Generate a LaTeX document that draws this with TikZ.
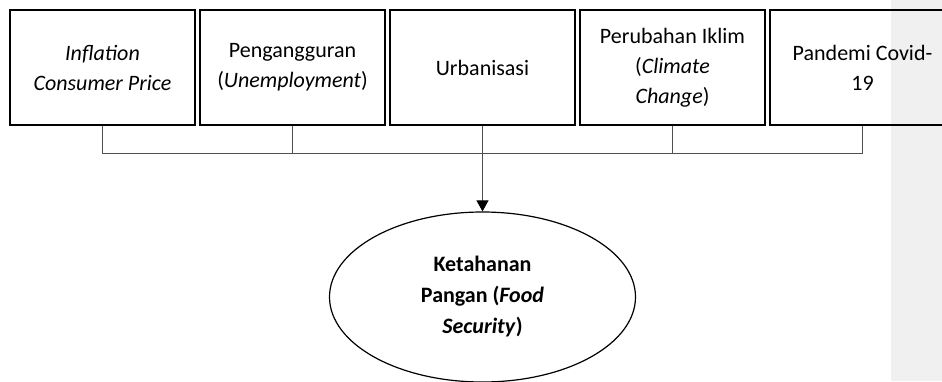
\documentclass[tikz,border=0pt]{standalone}
\usepackage{fontspec}
\setmainfont{Carlito}
\usetikzlibrary{arrows.meta,shapes.geometric}
\definecolor{conn}{HTML}{505050}
\definecolor{margin}{HTML}{F0F0F0}
\begin{document}
\begin{tikzpicture}[x=1pt,y=-1pt,
  factor/.style={draw=black,line width=1.8pt,minimum width=185pt,minimum height=115pt,
    inner sep=0pt,align=center,font=\fontsize{22}{30}\selectfont},
  link/.style={draw=conn,line width=1pt},
  target/.style={draw=black,ellipse,line width=1.2pt,minimum width=306pt,minimum height=170pt,
    inner sep=0pt,align=center,font=\fontsize{22}{31}\selectfont\bfseries}]
\useasboundingbox (0,0) rectangle (942,381);
\clip (0,0) rectangle (942,381);
\fill[margin] (891,0) rectangle (942,381);
\node[factor] (b1) at (102.5,67.5) {\itshape Inflation\\\itshape Consumer Price};
\node[factor] (b2) at (292.5,67.5) {Pengangguran\\(\textit{Unemployment})};
\node[factor] (b3) at (482.5,67.5) {Urbanisasi};
\node[factor] (b4) at (672.5,67.5) {Perubahan Iklim\\(\textit{Climate}\\\textit{Change})};
\node[factor] (b5) at (862.5,67.5) {Pandemi Covid-\\19};
\node[target] (fs) at (482.5,297) {Ketahanan\\Pangan (\textit{Food}\\\textit{Security})};
\coordinate (bus) at (0,153);
\draw[link] (b1.south) -- (b1.south |- bus) -- (b5.south |- bus) -- (b5.south);
\draw[link] (b2.south) -- (b2.south |- bus);
\draw[link] (b4.south) -- (b4.south |- bus);
\draw[link,-{Triangle[width=12pt,length=11pt,color=black]}] (b3.south) -- (fs.north);
\end{tikzpicture}
\end{document}
